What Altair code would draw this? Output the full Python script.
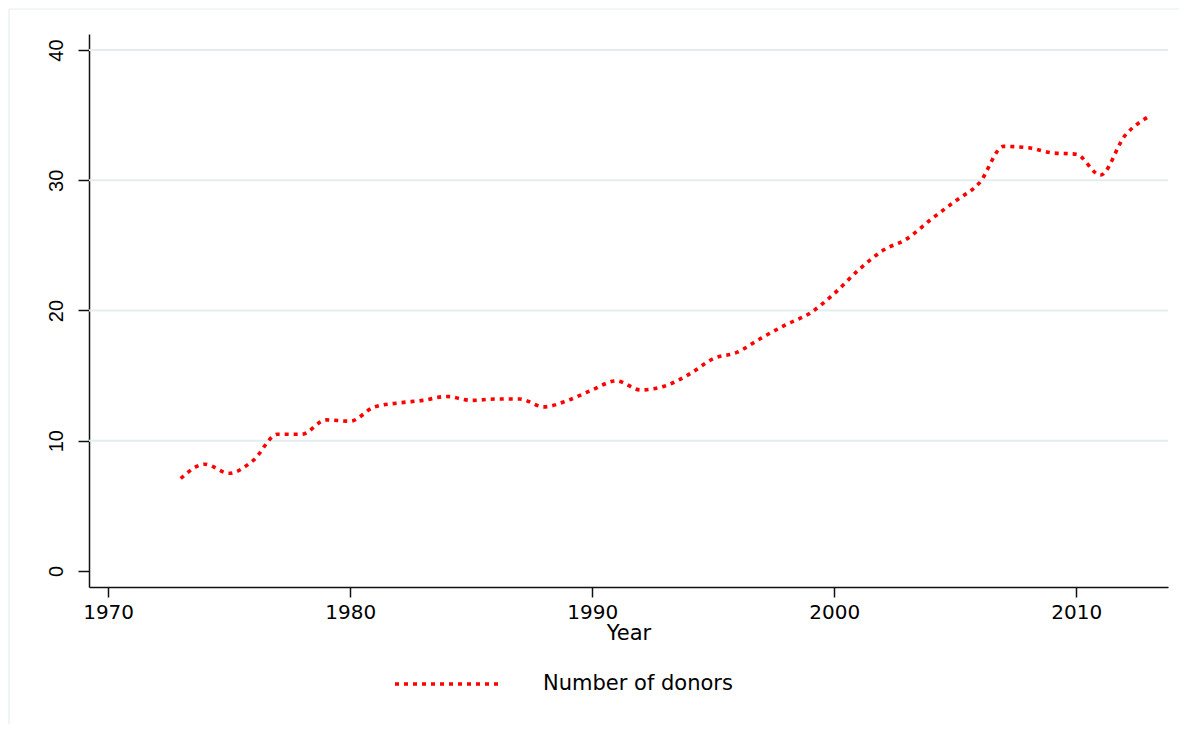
import altair as alt
import pandas as pd

years = list(range(1973, 2014))
donors = [7.1, 8.2, 7.5, 8.5, 10.5, 10.5, 11.6, 11.5, 12.6, 12.9,
          13.1, 13.4, 13.1, 13.2, 13.2, 12.6, 13.1, 13.9, 14.6, 13.9,
          14.2, 15.1, 16.3, 16.8, 17.9, 18.9, 19.8, 21.3, 23.1, 24.6,
          25.5, 27.0, 28.4, 29.8, 32.6, 32.5, 32.1, 32.0, 30.4, 33.4, 34.9]
series_name = "Number of donors"
x_ticks = [1970, 1980, 1990, 2000, 2010]
y_ticks = [0, 10, 20, 30, 40]
grid_values = [10, 20, 30, 40]

df = pd.DataFrame({"Year": years, "donors": donors, "series": series_name})
grid_df = pd.DataFrame({"g": grid_values})
frame_df = pd.DataFrame({"a": [0]})

W, H = 1079, 553
xscale = alt.Scale(domain=[1969.21, 2013.79], nice=False, zero=False)
yscale = alt.Scale(domain=[-1.23, 41.23], nice=False, zero=False)

y_axis = alt.Axis(values=y_ticks, title=None, grid=False, tickSize=11,
                  labelAngle=270, labelAlign="center", labelBaseline="bottom",
                  labelPadding=12, labelFont="Liberation Sans", labelFontSize=20,
                  labelColor="black",
                  domainColor="#111", tickColor="#111", domainWidth=1.5, tickWidth=1.5)

grid = alt.Chart(grid_df).mark_rule(color="#e3edf0", strokeWidth=1.8).encode(
    y=alt.Y("g:Q", scale=yscale, axis=y_axis)
)

line = alt.Chart(df).mark_line(
    strokeWidth=3.6, strokeDash=[4, 5], strokeCap="butt", interpolate="monotone"
).encode(
    x=alt.X("Year:Q", scale=xscale,
            axis=alt.Axis(values=x_ticks, format="d", title="Year", grid=False,
                          tickSize=10, labelPadding=5, titlePadding=0,
                          labelFont="DejaVu Sans", labelFontSize=20,
                          titleFont="DejaVu Sans", titleFontSize=21, titleFontWeight="normal",
                          labelColor="black", titleColor="black",
                          domainColor="#111", tickColor="#111", domainWidth=1.5, tickWidth=1.5)),
    y=alt.Y("donors:Q", scale=yscale, axis=y_axis),
    color=alt.Color("series:N", scale=alt.Scale(range=["#ff0000"]),
                    legend=alt.Legend(title=None, orient="none", legendX=304, legendY=594,
                                      symbolType="stroke", symbolSize=11664,
                                      symbolStrokeWidth=3.6, symbolDash=[4, 5],
                                      labelFont="DejaVu Sans", labelFontSize=21,
                                      labelLimit=0,
                                      labelOffset=38, labelColor="black", padding=0)),
)

frame_left = alt.Chart(frame_df).mark_rule(color="#e4edf0", strokeWidth=1.2).encode(
    x=alt.value(-80), y=alt.value(-25), y2=alt.value(690)
)
frame_top = alt.Chart(frame_df).mark_rule(color="#e4edf0", strokeWidth=1.2).encode(
    x=alt.value(-80), x2=alt.value(1090), y=alt.value(-25)
)

chart = alt.layer(frame_left, frame_top, grid, line).properties(
    width=W, height=H, padding=0, background="white"
).configure_view(stroke=None)

chart.save("out.html", embed_options={"renderer": "svg", "actions": False})
